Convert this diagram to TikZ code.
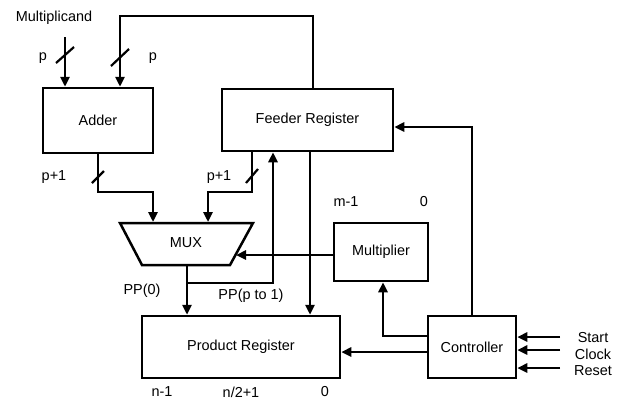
\documentclass[tikz,border=0pt]{standalone}
\usepackage{fontspec}
\setmainfont{Liberation Sans}
\usetikzlibrary{arrows.meta}
\begin{document}
\begin{tikzpicture}[x=1bp,y=-1bp,
  wire/.style={line width=2.5bp},
  arr/.style={wire,-{Triangle[length=10bp,width=9bp]}},
  blk/.style={draw,line width=2.5bp,inner sep=0pt,font=\fontsize{14.5}{16}\selectfont},
  lbl/.style={font=\fontsize{14.5}{16}\selectfont,inner sep=0pt},
  slash/.style={line width=2.2bp}]
\useasboundingbox (0,0) rectangle (621,400);
% blocks
\node[blk,minimum width=110bp,minimum height=65bp] (adder) at (98,120.5) {Adder};
\node[blk,minimum width=171bp,minimum height=62bp] (feeder) at (307.5,120) {Feeder Register};
\node[blk,minimum width=94bp,minimum height=58bp] (multiplier) at (381,252) {Multiplier};
\node[blk,minimum width=88bp,minimum height=62bp] (controller) at (472,347) {Controller};
\node[blk,minimum width=198bp,minimum height=62bp] (product) at (241,347) {Product Register};
% MUX
\draw[wire,line join=miter] (120,223) -- (253,223) -- (230,265) -- (142,265) -- cycle;
\node[lbl] (mux) at (186,243) {MUX};
% labels
\node[lbl] (mcand) at (54,18) {Multiplicand};
\node[lbl] (p1) at (43,58) {p};
\node[lbl] (p2) at (153,58) {p};
\node[lbl] (pp1a) at (54,177) {p+1};
\node[lbl] (pp1b) at (219,177) {p+1};
\node[lbl] (m1) at (346,202) {m-1};
\node[lbl] (m0) at (424,202) {0};
\node[lbl] (pp0) at (142,291) {PP(0)};
\node[lbl] (ppp) at (251,296) {PP(p to 1)};
\node[lbl] (n1) at (162,392) {n-1};
\node[lbl] (n2) at (241,392) {n/2+1};
\node[lbl] (n0) at (325,392) {0};
\node[lbl] (start) at (593,338) {Start};
\node[lbl] (clock) at (593,354) {Clock};
\node[lbl] (reset) at (593,371) {Reset};
% coordinates
\coordinate (mc) at (65,37);
\coordinate (fbx) at (120,16);
\coordinate (fbr) at (313,16);
\coordinate (ao) at (98,192);
\coordinate (mi1) at (153,222);
\coordinate (fo) at (252,192);
\coordinate (mi2) at (208,222);
\coordinate (mo) at (187,265);
\coordinate (pj) at (187,283);
\coordinate (pu) at (273,283);
\coordinate (fp) at (310,151);
\coordinate (mx) at (236,255);
\coordinate (cf) at (472,127);
\coordinate (cm) at (383,336);
\coordinate (cpy) at (400,352);
\coordinate (s1) at (560,337);
\coordinate (s2) at (560,350);
\coordinate (s3) at (560,368);
% connectors
\draw[arr] (mc) -- (mc |- adder.north);
\draw[arr] (fbr |- feeder.north) -- (fbr) -- (fbx) -- (fbx |- adder.north);
\draw[arr] (adder.south) -- (ao) -| (mi1);
\draw[arr] (fo |- feeder.south) -- (fo) -| (mi2);
\draw[arr] (mo) -- (mo |- product.north);
\draw[arr] (pj) -- (pu) -- (pu |- feeder.south);
\draw[arr] (fp |- feeder.south) -- (fp |- product.north);
\draw[arr] (mx -| multiplier.west) -- (mx);
\draw[arr] (controller.north) -- (cf) -- (cf -| feeder.east);
\draw[arr] (cm -| controller.west) -- (cm) -- (cm |- multiplier.south);
\draw[arr] (cpy -| controller.west) -- (cpy -| product.east);
\draw[arr] (s1) -- (s1 -| controller.east);
\draw[arr] (s2) -- (s2 -| controller.east);
\draw[arr] (s3) -- (s3 -| controller.east);
% bus slashes
\draw[slash] (56,63) -- (74,47);
\draw[slash] (111,66) -- (129,49);
\draw[slash] (92,183) -- (104,171);
\draw[slash] (246,183) -- (258,169);
\end{tikzpicture}
\end{document}
